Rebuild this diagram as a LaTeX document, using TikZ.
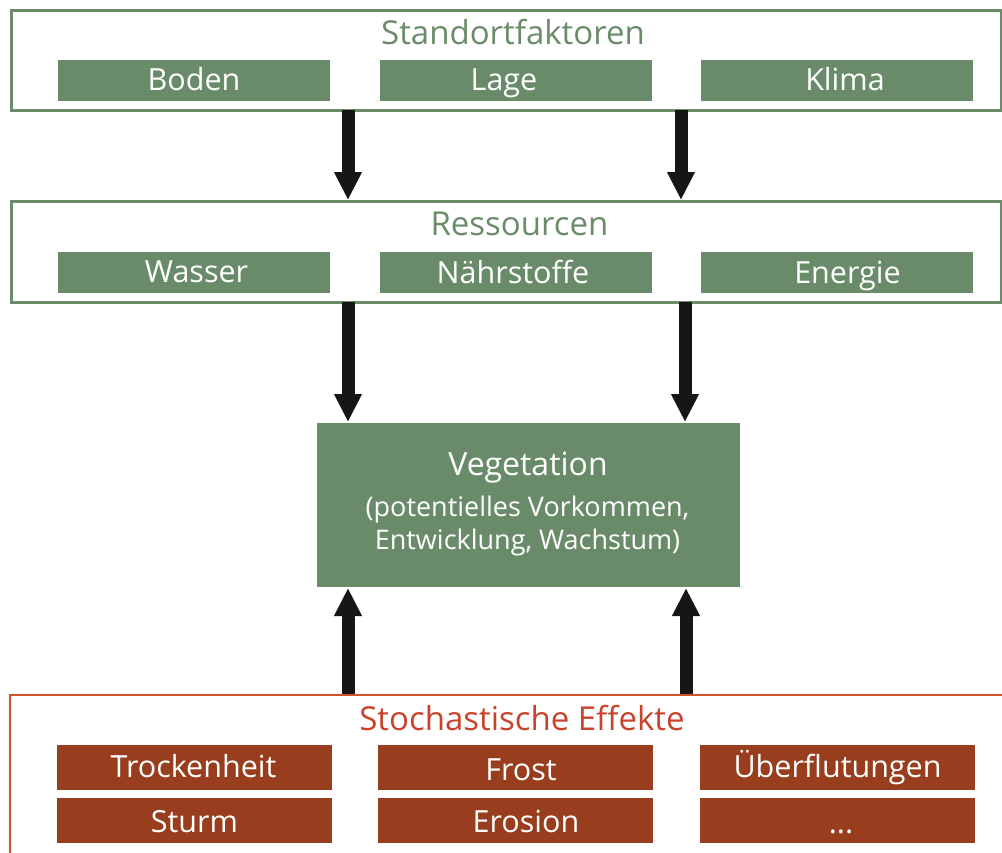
\documentclass[tikz,border=0pt]{standalone}
\usepackage{fontspec}
\setmainfont{Open Sans}
\usetikzlibrary{arrows.meta}
\definecolor{gfill}{HTML}{6A8B6A}
\definecolor{gline}{HTML}{6A8C69}
\definecolor{rline}{HTML}{D0532E}
\definecolor{rtext}{HTML}{C8432A}
\definecolor{rfill}{HTML}{983D1D}
\definecolor{arr}{HTML}{161616}
\tikzset{
  gframe/.style={draw=gline, line width=2.8pt, fill=white, inner sep=0pt, anchor=north west},
  rframe/.style={draw=rline, line width=2.8pt},
  gbox/.style={fill=gfill, minimum width=272pt, minimum height=41pt, inner sep=0pt},
  rbox/.style={fill=rfill, minimum width=275pt, minimum height=45pt, inner sep=0pt},
  boxtext/.style={text=white, anchor=base, inner sep=0pt, font=\fontsize{30.5}{33}\selectfont},
  gtitle/.style={text=gline, anchor=base, font=\fontsize{33}{36}\selectfont, inner sep=0pt},
  rtitle/.style={text=rtext, anchor=base, font=\fontsize{33}{36}\selectfont, inner sep=0pt},
  bigarrow/.style={draw=arr, line width=13pt, -{Triangle[width=26pt,length=28pt]}, arr},
}
\begin{document}
\begin{tikzpicture}[x=1pt,y=-1pt]
\useasboundingbox (0,0) rectangle (1002,852);
% frames
\node[gframe, minimum width=990pt, minimum height=100pt] (sf) at (10,9) {};
\node[gframe, minimum width=990pt, minimum height=101pt] (res) at (10,200) {};
\coordinate (stoch) at (10,695);
\draw[rframe] (10,864) -- (stoch) -- (1010,695);
% titles
\node[gtitle] (sft) at (513,44) {Standortfaktoren};
\node[gtitle] (rest) at (519.5,235) {Ressourcen};
\node[rtitle] (stt) at (522,730) {Stochastische Effekte};
% top boxes
\node[gbox] (boden) at (194,80.5) {};
\node[gbox] (lage) at (515.5,80.5) {};
\node[gbox] (klima) at (837,80.5) {};
\node[boxtext] (bodenT) at (194,90.5) {Boden};
\node[boxtext] (lageT) at (504,90.5) {Lage};
\node[boxtext] (klimaT) at (845,90.5) {Klima};
\node[gbox] (wasser) at (194,272.5) {};
\node[gbox] (naehr) at (515.5,272.5) {};
\node[gbox] (energie) at (837,272.5) {};
\node[boxtext] (wasserT) at (196.5,282.5) {Wasser};
\node[boxtext] (naehrT) at (513,283.5) {Nährstoffe};
\node[boxtext] (energieT) at (847.5,283.5) {Energie};
% vegetation
\node[fill=gfill, minimum width=423pt, minimum height=164pt, inner sep=0pt, anchor=north west] (veg) at (317,423) {};
\node[text=white, anchor=base, font=\fontsize{32}{33}\selectfont, inner sep=0pt] (vegt) at (528,475) {Vegetation};
\node[text=white, anchor=base, font=\fontsize{27}{33}\selectfont, inner sep=0pt] (vegs1) at (527.5,516) {(potentielles Vorkommen,};
\node[text=white, anchor=base, font=\fontsize{27}{33}\selectfont, inner sep=0pt] (vegs2) at (527.5,549) {Entwicklung, Wachstum)};
% bottom boxes
\node[rbox] (trock) at (194.5,767.5) {};
\node[rbox] (frost) at (515.5,767.5) {};
\node[rbox] (ueber) at (837.5,767.5) {};
\node[rbox] (sturm) at (194.5,820.5) {};
\node[rbox] (eros) at (515.5,820.5) {};
\node[rbox] (dots) at (837.5,820.5) {};
\node[boxtext] (trockT) at (193.5,777) {Trockenheit};
\node[boxtext] (frostT) at (521,780) {Frost};
\node[boxtext] (ueberT) at (837.5,777) {Überflutungen};
\node[boxtext] (sturmT) at (194.5,832) {Sturm};
\node[boxtext] (erosT) at (526,832) {Erosion};
\node[boxtext] (dotsT) at (841,833) {...};
% arrow coordinates
\coordinate (a1s) at (348,110);
\coordinate (a1e) at (348,200);
\coordinate (a2s) at (681,110);
\coordinate (a2e) at (681,200);
\coordinate (b1s) at (348,302);
\coordinate (b1e) at (348,422);
\coordinate (b2s) at (685,302);
\coordinate (b2e) at (685,422);
\coordinate (c1s) at (348,694);
\coordinate (c1e) at (348,588);
\coordinate (c2s) at (686,694);
\coordinate (c2e) at (686,588);
\draw[bigarrow] (a1s) -- (a1e);
\draw[bigarrow] (a2s) -- (a2e);
\draw[bigarrow] (b1s) -- (b1e);
\draw[bigarrow] (b2s) -- (b2e);
\draw[bigarrow] (c1s) -- (c1e);
\draw[bigarrow] (c2s) -- (c2e);
\end{tikzpicture}
\end{document}
